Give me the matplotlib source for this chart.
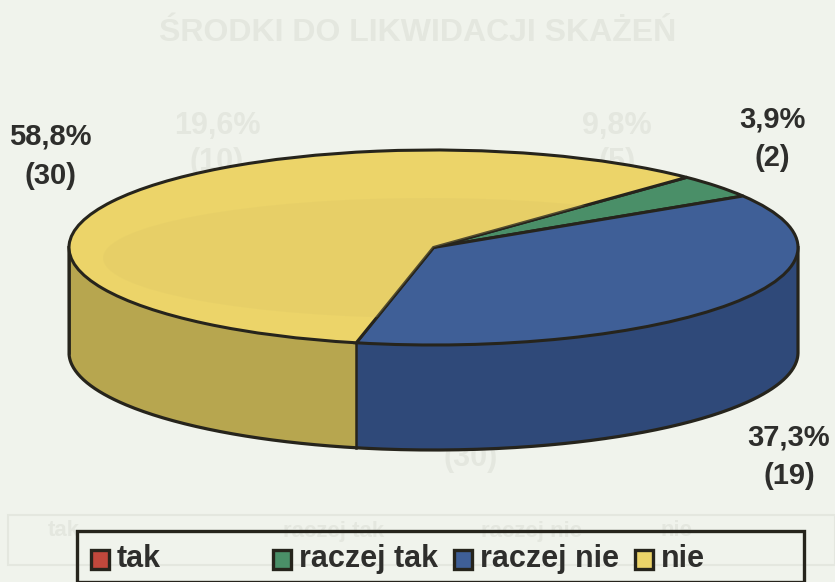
import matplotlib.pyplot as plt
from matplotlib.patches import Ellipse, Rectangle
import numpy as np

categories = ['tak', 'raczej tak', 'raczej nie', 'nie']
counts = [0, 2, 19, 30]
labels = ['', '3,9%\n(2)', '37,3%\n(19)', '58,8%\n(30)']
colors = ['#c0483c', '#4a8f68', '#3f5f97', '#ecd469']
side_colors = ['#8a3028', '#2f6a4a', '#2f4979', '#b7a64f']

W, H = 835, 582
# srodek i polosie elipsy w pikselach
cx, cy, rx, ry = 433.5, 247.5, 364.5, 97.5
depth = 105 / ry
start = 46
edge = '#26241c'
font = ['Liberation Sans', 'DejaVu Sans']

fig = plt.figure(figsize=(W / 100, H / 100), dpi=100, facecolor='#f0f3ec')
ax = fig.add_axes([0, 0, 1, 1])


def px(x, y):
    return (x - cx) / rx, (cy - y) / ry


# slady z drugiej strony kartki
ghost = '#e4e7df'
for x, y, s, size in [(418, 33, 'ŚRODKI DO LIKWIDACJI SKAŻEŃ', 23),
                      (217, 126, '19,6%', 22), (217, 162, '(10)', 22),
                      (617, 126, '9,8%', 22), (617, 162, '(5)', 22),
                      (471, 458, '(30)', 22),
                      (64, 531, 'tak', 16), (334, 531, 'raczej tak', 16),
                      (532, 531, 'raczej nie', 16), (676, 531, 'nie', 16)]:
    ax.text(*px(x, y), s, color=ghost, fontsize=size, fontweight='bold',
            family='Liberation Sans', ha='center', va='center', zorder=0)
ax.add_patch(Rectangle(px(8, 565), 827 / rx, 50 / ry, fc='none', ec=ghost, lw=1.5, zorder=0))

# boczna sciana, widoczna tylko dolna polowa
fractions = np.array(counts) / sum(counts)
a1 = start
for frac, col in zip(fractions, side_colors):
    a0 = a1 - frac * 360
    lo, hi = a0, a1
    a1 = a0
    # katy dolnej polowy elipsy: -180..0
    lo, hi = max(lo, -180), min(hi, 0)
    if hi <= lo:
        continue
    t = np.radians(np.linspace(lo, hi, 120))
    xs = np.cos(t)
    ys = np.sin(t)
    ax.fill_between(xs, ys - depth, ys, color=col, lw=0, zorder=1)
    ax.plot([xs[0], xs[0]], [ys[0], ys[0] - depth], color=edge, lw=1.8, zorder=2)

# obrys sciany jedna linia
t = np.radians(np.linspace(-180, 0, 300))
ax.plot(np.r_[-1, np.cos(t), 1], np.r_[0, np.sin(t) - depth, 0], color=edge, lw=2.3,
        zorder=2, solid_joinstyle='round')

# wierzch
wedges, _ = ax.pie(counts, colors=colors, startangle=start, counterclock=False, radius=1,
                   frame=True, wedgeprops=dict(edgecolor=edge, linewidth=2.2, zorder=3))
ax.set_aspect('auto')
ax.set_xlim(-cx / rx, (W - cx) / rx)
ax.set_ylim((cy - H) / ry, cy / ry)
ax.axis('off')

# ciemniejsza plama na zoltym wycinku
stain = Ellipse(px(428, 258), 650 / rx, 120 / ry, color='#d9c465', alpha=0.25, lw=0, zorder=3.1)
ax.add_patch(stain)
stain.set_clip_path(wedges[3])

# etykiety
label_pos = [None, (772, 139), (789, 457), (50, 156)]
for pos, lab in zip(label_pos, labels):
    if pos:
        ax.text(*px(*pos), lab, family=font, fontweight='bold', fontsize=21,
                color='#2e2e2c', ha='center', va='center', linespacing=1.5, zorder=6)

# legenda
ax.add_patch(Rectangle(px(77, 582), 727 / rx, 51 / ry, fc='none', ec=edge, lw=2.4, zorder=6))
swatches = [90, 272, 453, 634]
for x, name, col in zip(swatches, categories, colors):
    ax.add_patch(Rectangle(px(x + 1, 569), 18 / rx, 19 / ry, fc=col, ec=edge, lw=2.4, zorder=6))
    ax.text(*px(x + 27, 559), name, family=font, fontweight='bold', fontsize=22,
            color='#2e2e2c', ha='left', va='center', zorder=6)

fig.savefig('out.png', dpi=100, facecolor=fig.get_facecolor())
